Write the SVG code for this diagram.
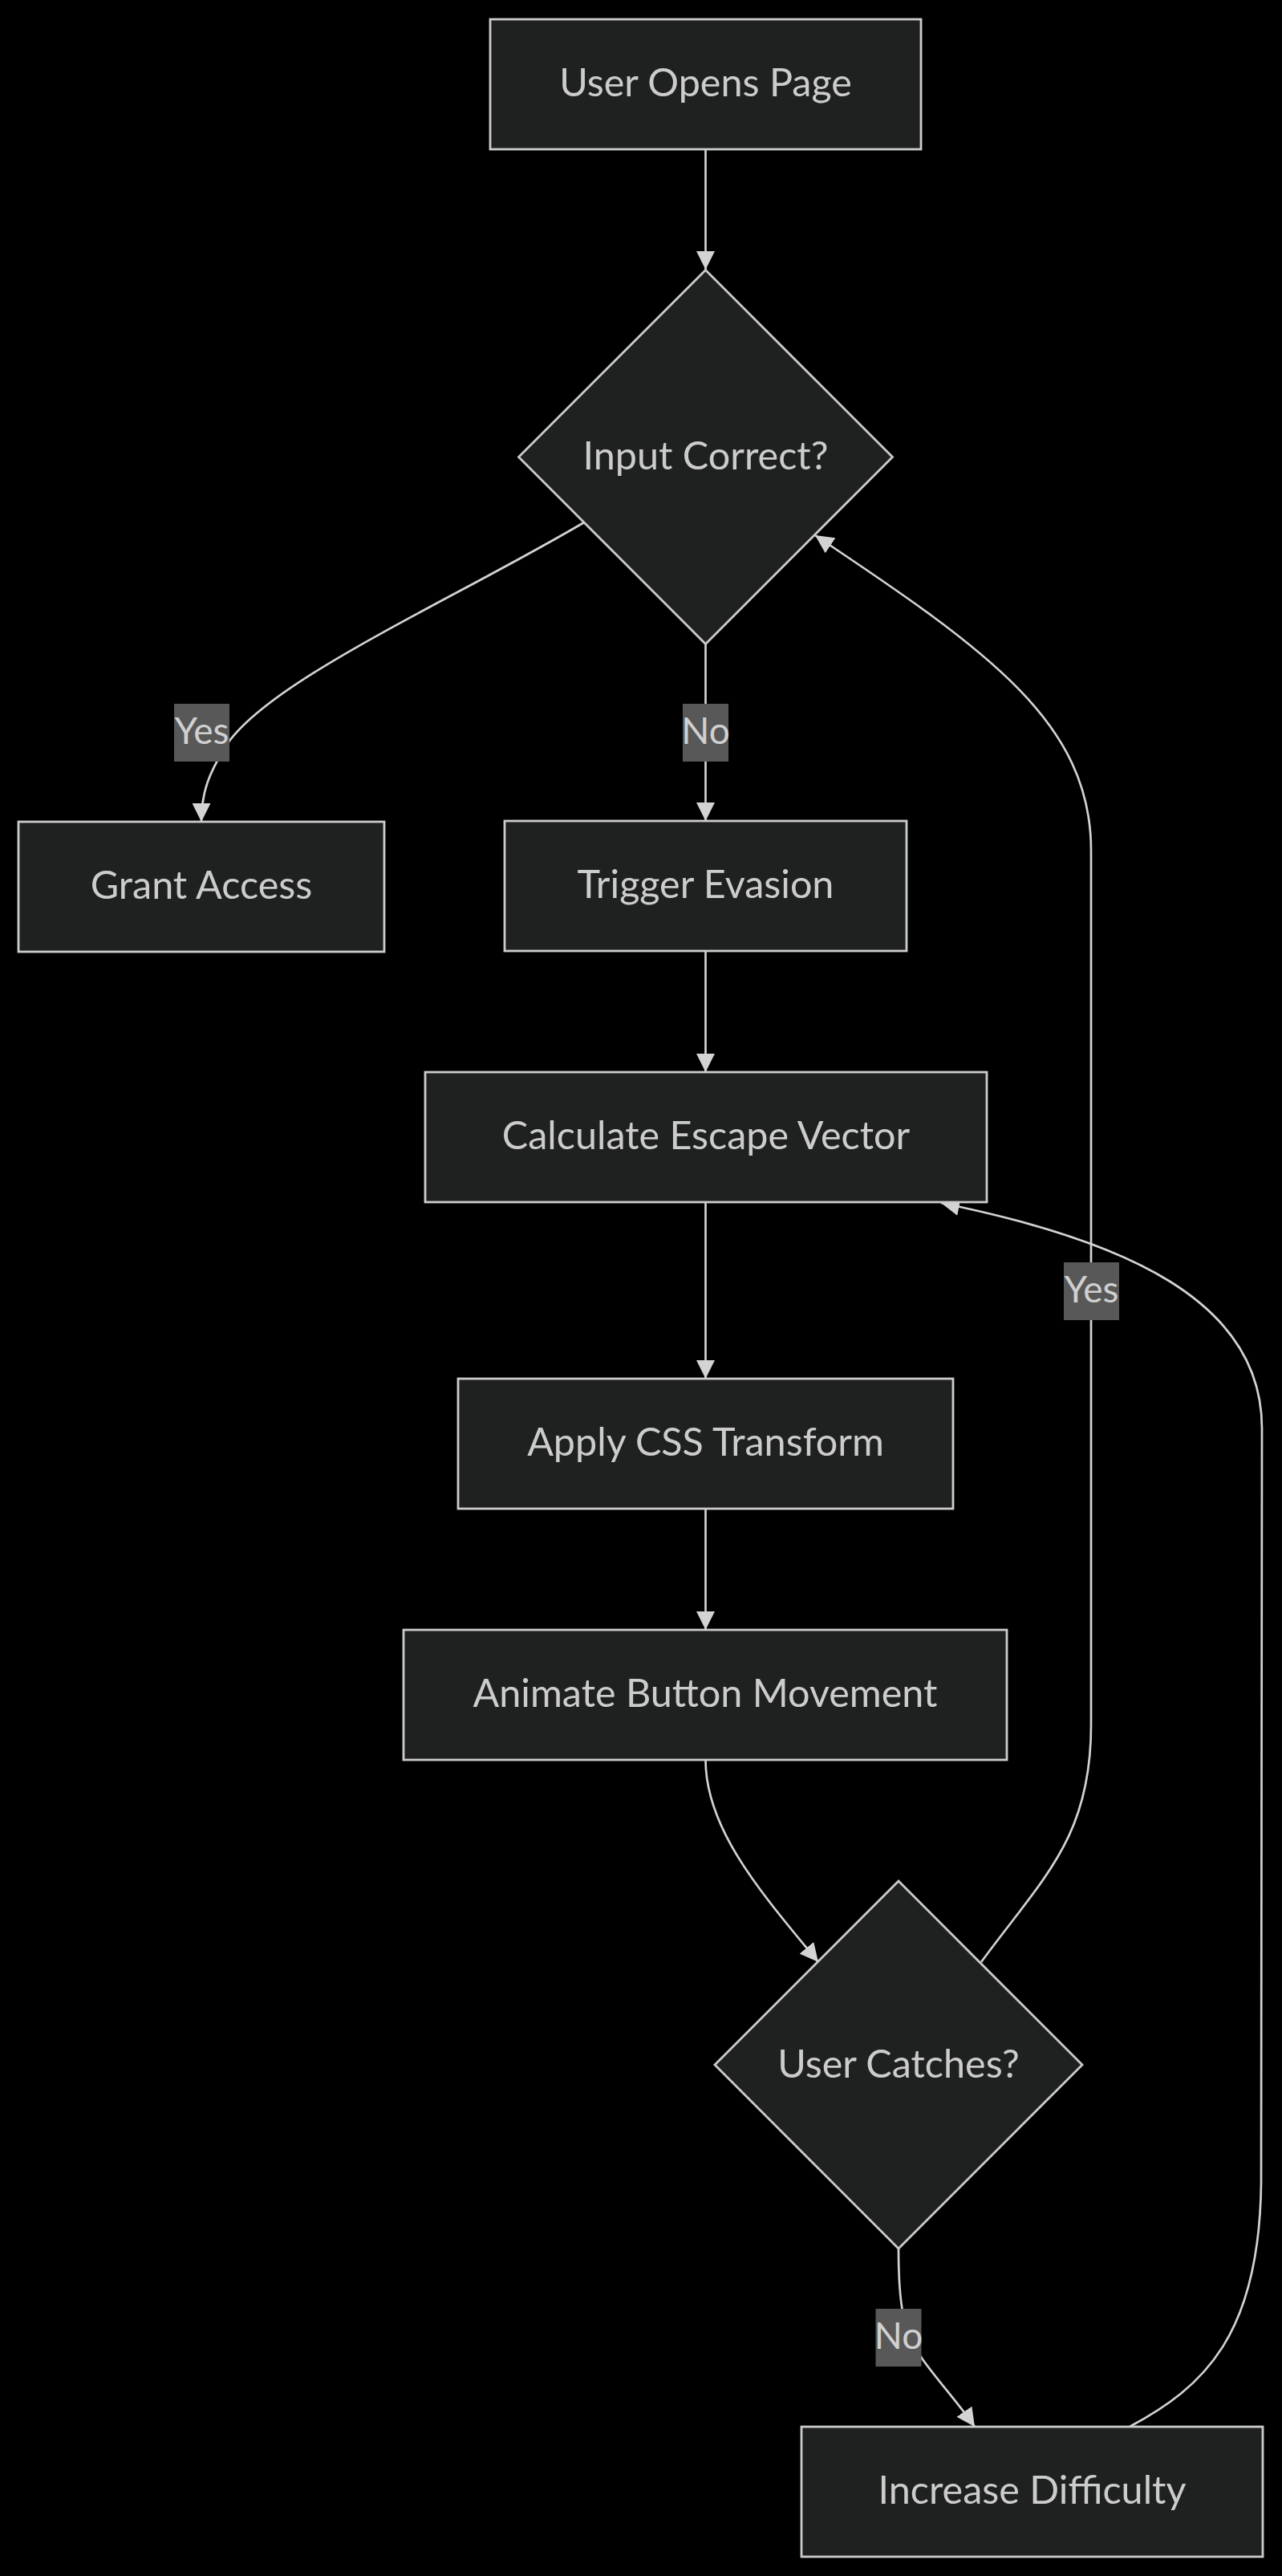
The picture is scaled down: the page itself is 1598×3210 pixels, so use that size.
<svg xmlns="http://www.w3.org/2000/svg" width="1598" height="3210" viewBox="0 0 1598 3210">
<style>
.node rect,.node polygon{fill:#1f2020;stroke:#cccccc;stroke-width:2.8}
.node text{fill:#cccccc;font-family:Lato,"Liberation Sans",sans-serif;font-size:48.5px;text-anchor:middle}
.edge{fill:none;stroke:#d3d3d3;stroke-width:2.7}
.lbl rect{fill:#585858}
.lbl text{fill:#d0d0d0;font-family:Lato,"Liberation Sans",sans-serif;font-size:46px;text-anchor:middle}
</style>
<defs>
<marker id="arr" markerUnits="userSpaceOnUse" markerWidth="23" markerHeight="23" viewBox="0 0 10 10" refX="10" refY="5" orient="auto">
<path d="M0,0 L10,5 L0,10 z" fill="#d3d3d3"/>
</marker>
</defs>
<rect x="0" y="0" width="1598" height="3210" fill="#000000"/>
<g id="connectors">
<path class="edge" d="M879.5,186 L879.5,336" marker-end="url(#arr)"/>
<path class="edge" d="M728,651 C560,750 330,850 280,932 C262,962 251,985 251,1024" marker-end="url(#arr)"/>
<path class="edge" d="M879.5,802 L879.5,1023" marker-end="url(#arr)"/>
<path class="edge" d="M879.5,1185 L879.5,1336" marker-end="url(#arr)"/>
<path class="edge" d="M879.5,1498 L879.5,1718" marker-end="url(#arr)"/>
<path class="edge" d="M879.5,1880 L879.5,2031" marker-end="url(#arr)"/>
<path class="edge" d="M879.5,2193 C879.5,2280 950,2360 1020,2445" marker-end="url(#arr)"/>
<path class="edge" d="M1223,2445 C1300,2340 1360,2290 1360,2150 L1360,1060 C1360,900 1230,810 1016,667" marker-end="url(#arr)"/>
<path class="edge" d="M1120,2802 C1120,2870 1125,2905 1150,2940 C1170,2968 1195,2995 1215,3024" marker-end="url(#arr)"/>
<path class="edge" d="M1408,3024 C1500,2975 1570,2910 1572,2720 L1573,1780 C1573,1620 1400,1545 1173,1499" marker-end="url(#arr)"/>
<g class="lbl"><rect x="217" y="877" width="69" height="72"/><text x="251.5" y="927">Yes</text></g>
<g class="lbl"><rect x="851" y="877" width="57" height="72"/><text x="879.5" y="927">No</text></g>
<g class="lbl"><rect x="1326" y="1573" width="69" height="72"/><text x="1360.5" y="1623">Yes</text></g>
<g class="lbl"><rect x="1091.5" y="2877" width="57" height="72"/><text x="1120" y="2927">No</text></g>
</g>
<g id="A" class="node"><rect x="611" y="24" width="537" height="162"/><text x="879.5" y="120">User Opens Page</text></g>
<g id="B" class="node"><polygon points="879.5,336.5 1112.5,569.5 879.5,802.5 646.5,569.5"/><text x="879.5" y="585">Input Correct?</text></g>
<g id="C" class="node"><rect x="23" y="1024" width="456" height="162"/><text x="251" y="1120">Grant Access</text></g>
<g id="D" class="node"><rect x="629" y="1023" width="501" height="162"/><text x="879.5" y="1119">Trigger Evasion</text></g>
<g id="E" class="node"><rect x="530" y="1336" width="700" height="162"/><text x="880" y="1432">Calculate Escape Vector</text></g>
<g id="F" class="node"><rect x="571" y="1718" width="617" height="162"/><text x="879.5" y="1814">Apply CSS Transform</text></g>
<g id="G" class="node"><rect x="503" y="2031" width="752" height="162"/><text x="879" y="2127">Animate Button Movement</text></g>
<g id="H" class="node"><polygon points="1120,2344 1349,2573 1120,2802 891,2573"/><text x="1120" y="2589">User Catches?</text></g>
<g id="I" class="node"><rect x="999" y="3024" width="575" height="162"/><text x="1286.5" y="3120">Increase Difficulty</text></g>
</svg>
